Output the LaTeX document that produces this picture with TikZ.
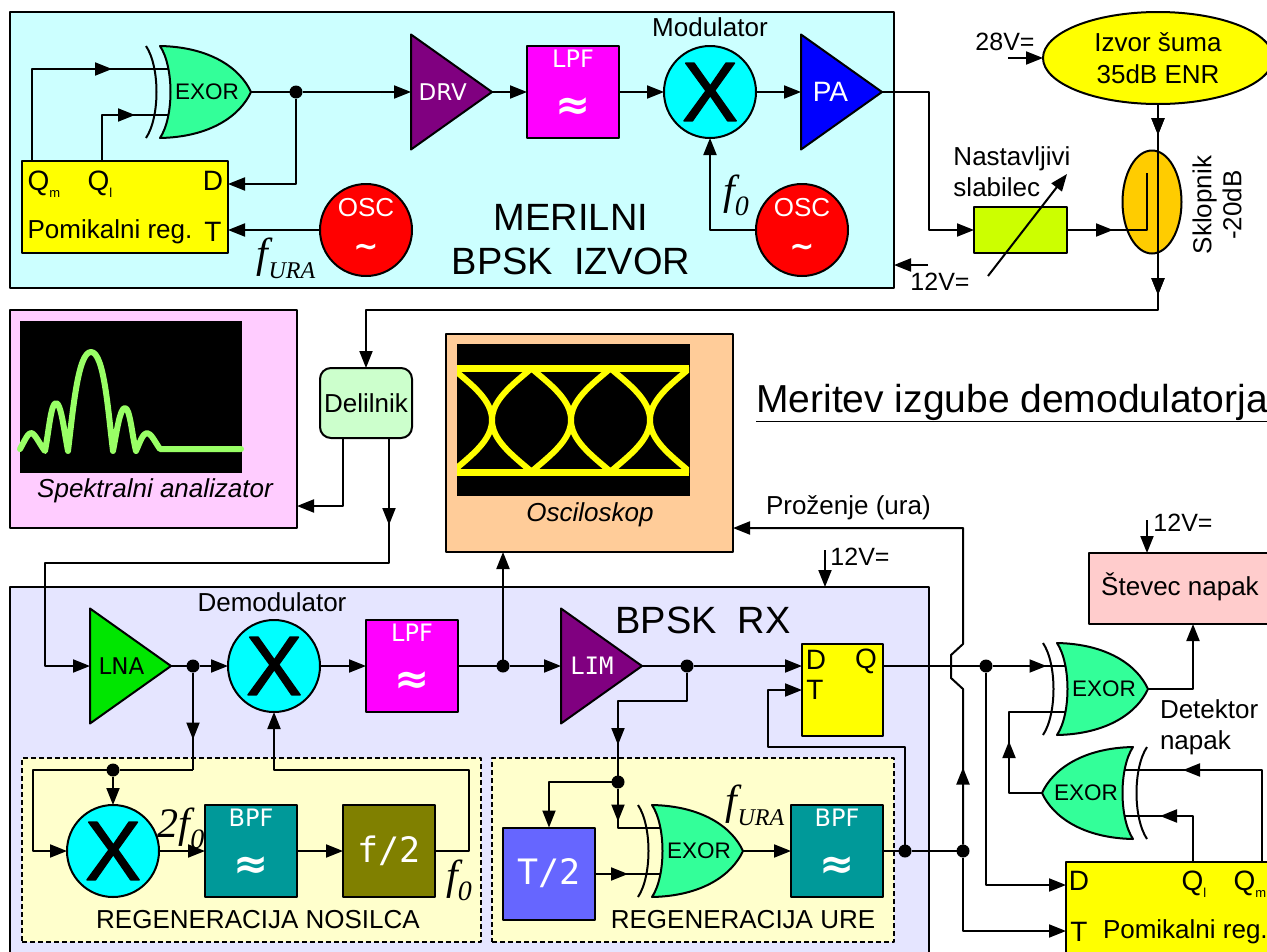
\documentclass[tikz,border=0pt]{standalone}
\usepackage{fontspec}
\setmainfont{Liberation Sans}
\newfontfamily\timesfont{Liberation Serif}
\newfontfamily\verafont{DejaVu Sans}
\newfontfamily\verabold{DejaVu Sans Bold}
\newfontfamily\veramono{DejaVu Sans Mono}
\newfontfamily\mixfont[FakeBold=1.5]{Liberation Sans}
\usetikzlibrary{arrows.meta}
\usetikzlibrary{shapes.geometric}
\usetikzlibrary{decorations.markings}
\newcommand{\fz}[1]{\fontsize{#1}{#1}\selectfont}
\newcommand{\ffreq}[2]{{\timesfont\itshape\fz{42}f\fz{#2}\raisebox{-11pt}{#1}}}
\newcommand{\filtertext}[1]{{\verafont\fz{24}#1}\\[26pt]{\verabold\fz{42}≈\rule[-14pt]{0pt}{14pt}}}
\newcommand{\osctext}{{\fz{26}OSC}\\[14pt]{\verabold\fz{30}\char"007E\rule[-5pt]{0pt}{5pt}}}
\newcommand{\qsub}[1]{{\fz{28}Q}\raisebox{-7pt}{\fz{13}#1}}
\definecolor{cmer}{HTML}{CCFFFF}
\definecolor{crx}{HTML}{E5E5FF}
\definecolor{creg}{HTML}{FFFFCC}
\definecolor{cgate}{HTML}{33FF99}
\definecolor{cpurple}{HTML}{800080}
\definecolor{cbpf}{HTML}{009999}
\definecolor{cdiv}{HTML}{808000}
\definecolor{cspek}{HTML}{FFCCFF}
\definecolor{cosc}{HTML}{FFCC99}
\definecolor{cdel}{HTML}{CCFFCC}
\definecolor{cslab}{HTML}{CCFF00}
\definecolor{csklop}{HTML}{FFCC00}
\definecolor{cstev}{HTML}{FFCCCC}
\definecolor{cblue}{HTML}{6666FF}
\definecolor{cspec}{HTML}{99FF66}
\definecolor{cmix}{HTML}{00FFFF}
\definecolor{clpf}{HTML}{FF00FF}
\definecolor{cyel}{HTML}{FFFF00}
\definecolor{cgrn}{HTML}{00E600}
\definecolor{cpa}{HTML}{0000FF}
\definecolor{cosg}{HTML}{FF0000}
\tikzset{
  blok/.style={draw=black, line width=2pt, rectangle, inner sep=0pt, outer sep=0pt, align=center, font=\fz{26}},
  okvir/.style={blok, anchor=north west},
  filter/.style={blok, minimum size=92pt, text=white},
  ojac/.style={draw=black, line width=2pt, shape=isosceles triangle, isosceles triangle stretches,
    minimum width=115pt, minimum height=81pt, inner sep=0pt, outer sep=0pt, anchor=lower side},
  mesalnik/.style={draw=black, line width=2pt, circle, fill=cmix, minimum size=92pt, inner sep=0pt, outer sep=0pt, font=\mixfont\fz{84}},
  oscil/.style={mesalnik, fill=cosg, text=white, align=center, font=\fz{26}},
  tekst/.style={inner sep=0pt, outer sep=0pt, font=\fz{26}, align=left},
  napet/.style={tekst, font=\fz{25}},
  tocka/.style={circle, fill=black, minimum size=13pt, inner sep=0pt, outer sep=0pt},
  vod/.style={draw=black, line width=2pt},
  zica/.style={vod, -{Triangle[length=17pt,width=13pt]}},
  midhead/.style={postaction={decorate}, decoration={markings, mark=at position #1 with {\arrow{Triangle[length=17pt,width=13pt]}}}},
  exor/.pic={
    \draw[line width=2pt, fill=cgate] (0,-46) .. controls (50,-45) and (80,-24) .. (91,0)
      .. controls (80,24) and (50,45) .. (0,46) .. controls (14,25) and (14,-25) .. (0,-46) -- cycle;
    \draw[line width=2pt] (-14,-46) .. controls (0,-25) and (0,25) .. (-14,46);
    \node[font=\fz{22.5}] (-t) at (47,0) {EXOR};
    \coordinate (-a) at (8,-23);
    \coordinate (-b) at (8,23);
    \coordinate (-o) at (91,0);
  }
}
\begin{document}
\begin{tikzpicture}[x=1pt, y=-1pt, line join=round]
  \useasboundingbox (0,0) rectangle (1267,951);
  \clip (0,0) rectangle (1267,951);
  % okvirji
  \node[okvir, fill=cmer, minimum width=884pt, minimum height=276pt] (mer) at (10,12) {};
  \node[okvir, fill=crx, minimum width=919pt, minimum height=380pt] (rx) at (10,587) {};
  \node[okvir, fill=creg, dash pattern=on 5pt off 3pt, minimum width=459pt, minimum height=184pt] (regnos) at (22,758) {};
  \node[okvir, fill=creg, dash pattern=on 5pt off 3pt, minimum width=402pt, minimum height=184pt] (regure) at (492,758) {};
  \node[okvir, fill=cspek, minimum width=287pt, minimum height=218pt] (spek) at (10,310) {};
  \node[okvir, fill=cosc, minimum width=287pt, minimum height=218pt] (osc) at (446,334) {};
  \node[okvir, fill=black, minimum width=221pt, minimum height=151pt, line width=0pt] (spekscr) at (20,321) {};
  \node[okvir, fill=black, minimum width=232pt, minimum height=151pt, line width=0pt] (oscscr) at (457,344) {};
  % zaslona
  \draw[cspec, line width=6pt, line cap=round] (20,449) .. controls (25,440) and (28,433) .. (31,433)
    .. controls (35,433) and (40,445) .. (45,451) .. controls (49,430) and (51,403) .. (56,403)
    .. controls (61,403) and (64,430) .. (68,451) .. controls (73,410) and (78,352) .. (91,352)
    .. controls (104,352) and (108,410) .. (113,451) .. controls (117,430) and (120,408) .. (125,408)
    .. controls (130,408) and (132,435) .. (136,451) .. controls (140,442) and (143,433) .. (147,433)
    .. controls (151,433) and (155,442) .. (160,449) -- (241,449);
  \begin{scope}
    \clip (457,344) rectangle (689,495);
    \draw[cyel, line width=7pt] (457,368) -- (689,368) (457,472) -- (689,472);
    \foreach \c in {492,571,650} {
      \draw[cyel, line width=6pt] (\c-40,368) .. controls (\c-20,385) and (\c,400) .. (\c,420)
        .. controls (\c,440) and (\c+20,455) .. (\c+40,472);
      \draw[cyel, line width=6pt] (\c+40,368) .. controls (\c+20,385) and (\c,400) .. (\c,420)
        .. controls (\c,440) and (\c-20,455) .. (\c-40,472);
    }
  \end{scope}
  % MERILNI BPSK IZVOR
  \pic (exorA) at (160,92) {exor};
  \node[okvir, fill=cyel, minimum width=206pt, minimum height=92pt] (regA) at (22,161) {};
  \node[tekst] (regAqm) at (44,184) {\qsub{m}};
  \node[tekst] (regAql) at (100,184) {\qsub{l}};
  \node[tekst, font=\fz{28}] (regAd) at (213,181) {D};
  \node[tekst, font=\fz{28}] (regAt) at (213,232) {T};
  \node[tekst] (regAn) at (110,232) {Pomikalni reg.};
  \node[ojac, fill=cpurple, text=white, font=\verafont\fz{23}] (drv) at (411,92) {DRV};
  \node[filter, fill=clpf] (lpfA) at (573,92) {\filtertext{LPF}};
  \node[mesalnik] (mod) at (710,92) {X};
  \node[tekst] (modt) at (710,27) {Modulator};
  \node[ojac, fill=cpa, text=white, font=\fz{28}] (pa) at (801,92) {PA};
  \node[oscil] (oscA) at (366,230) {\osctext};
  \node[oscil] (oscB) at (802,230) {\osctext};
  \node[tekst, font=\fz{38}, align=center] (mert) at (571,240) {MERILNI\\[6pt]BPSK\ \ IZVOR};
  \node[tekst] (furaA) at (286,258) {\ffreq{URA}{24}};
  \node[tekst] (fnicA) at (736,195) {\ffreq{0}{28}};
  \node[tocka] (dA) at (296,92) {};
  \coordinate (qmA) at (32,161);
  \coordinate (qlA) at (102,161);
  \coordinate (dinA) at (228,184);
  \coordinate (tinA) at (228,230);
  \draw[vod, midhead=172pt] (qmA) |- (exorA-a);
  \draw[vod, midhead=79pt] (qlA) |- (exorA-b);
  \draw[vod] (exorA-o) -- (dA);
  \draw[zica] (dA) -- (drv.lower side);
  \draw[zica] (dA) |- (dinA);
  \draw[zica] (oscA) -- (tinA);
  \draw[zica] (drv.apex) -- (lpfA);
  \draw[zica] (lpfA) -- (mod);
  \draw[zica] (mod) -- (pa.lower side);
  \draw[zica] (oscB) -| (mod);
  % izvor suma, slabilec, sklopnik
  \node[draw=black, line width=2pt, ellipse, fill=cyel, minimum width=230pt, minimum height=92pt, inner sep=0pt, outer sep=0pt, font=\fz{26}, align=center] (noise) at (1158,58) {Izvor šuma\\[6pt]35dB ENR};
  \node[okvir, fill=cslab, minimum width=93pt, minimum height=46pt] (slab) at (974,207) {};
  \node[draw=black, line width=2pt, ellipse, fill=csklop, minimum width=59pt, minimum height=103pt, inner sep=0pt, outer sep=0pt] (sklop) at (1152,202) {};
  \node[tekst] (slabt) at (1012,172) {Nastavljivi\\[5pt]slabilec};
  \node[tekst, rotate=90, align=center] (sklopt) at (1217,205) {Sklopnik\\[4pt]-20dB};
  \node[napet] (v28) at (1005,42) {28V=};
  \node[napet] (v12a) at (940,282) {12V=};
  \coordinate (v28z) at (1008,58);
  \coordinate (v12z) at (928,265);
  \coordinate (slabA) at (988,276);
  \coordinate (slabB) at (1067,174);
  \coordinate (sklopin) at (1147,173);
  \coordinate (sklopiz) at (1158,310);
  \coordinate (paout) at (929,230);
  \draw[zica] (v28z) -- (noise.west);
  \draw[zica] (v12z) -- (mer.east |- v12z);
  \draw[zica] (pa.apex) -| (paout) -- (slab.west);
  \draw[zica] (slabA) -- (slabB);
  \draw[vod, midhead=46pt] (slab.east) -| (sklopin);
  \draw[zica, midhead=31pt, midhead=191pt] (noise.south) -- (sklopiz) -| (366,368);
  % spektralni analizator, delilnik, osciloskop
  \node[blok, rounded corners=11pt, fill=cdel, minimum width=92pt, minimum height=70pt] (del) at (366,403) {Delilnik};
  \node[tekst, font=\itshape\fz{26}] (spekt) at (155,491) {Spektralni analizator};
  \node[tekst, font=\itshape\fz{26}] (osct) at (590,515) {Osciloskop};
  \node[tekst, font=\fz{39}] (mert2) at (1012,403) {\underline{Meritev izgube demodulatorja}};
  \coordinate (delA) at (343,438);
  \coordinate (delB) at (389,438);
  \coordinate (delB2) at (389,563);
  \coordinate (rxvh) at (45,563);
  \coordinate (spekin) at (297,506);
  \draw[zica] (delA) |- (spekin);
  % BPSK RX
  \node[tekst, font=\fz{38}] (rxt) at (703,620) {BPSK\ \ RX};
  \node[ojac, fill=cgrn, font=\verafont\fz{23}] (lna) at (90,666) {LNA};
  \node[tekst] (demt) at (272,602) {Demodulator};
  \node[mesalnik] (dem) at (274,666) {X};
  \node[filter, fill=clpf] (lpfB) at (412,666) {\filtertext{LPF}};
  \node[ojac, fill=cpurple, text=white, font=\veramono\fz{24}] (lim) at (561,666) {LIM};
  \node[okvir, fill=cyel, minimum width=81pt, minimum height=92pt] (dff) at (802,644) {};
  \node[tekst, font=\fz{28}] (dffd) at (816,660) {D};
  \node[tekst, font=\fz{28}] (dffq) at (866,661) {Q};
  \node[tekst, font=\fz{28}] (dfft) at (815,690) {T};
  \node[mesalnik] (mixC) at (113,851) {X};
  \node[filter, fill=cbpf] (bpfA) at (251,851) {\filtertext{BPF}};
  \node[filter, fill=cdiv, font=\veramono\fz{35}] (div) at (389,851) {f/2};
  \node[filter, fill=cblue, font=\veramono\fz{35}] (t2) at (549,873.5) {T/2};
  \pic (exorB) at (652,851) {exor};
  \node[filter, fill=cbpf] (bpfB) at (837,851) {\filtertext{BPF}};
  \node[tekst] (regnost) at (258,920) {REGENERACIJA NOSILCA};
  \node[tekst] (reguret) at (743,920) {REGENERACIJA URE};
  \node[tekst] (f2) at (181,828) {{\timesfont\itshape\fz{42}2f\fz{28}\raisebox{-11pt}{0}}};
  \node[tekst] (fnicB) at (459,880) {\ffreq{0}{28}};
  \node[tekst] (furaB) at (755,805) {\ffreq{URA}{24}};
  \node[tocka] (dB) at (193,666) {};
  \node[tocka] (dC) at (113,770) {};
  \node[tocka] (dD) at (503,666) {};
  \node[tocka] (dE) at (687,666) {};
  \node[tocka] (dF) at (618,782) {};
  \node[tocka] (dG) at (905,851) {};
  \node[tocka] (dH) at (963,851) {};
  \node[tocka] (dI) at (986,666) {};
  \coordinate (vhod) at (33,770);
  \coordinate (vhodB) at (193,770);
  \coordinate (divout) at (469,770);
  \coordinate (limk) at (618,701);
  \coordinate (ckl) at (768,747);
  \coordinate (dffT) at (802,690);
  \coordinate (dffQ) at (883,666);
  \coordinate (dffD) at (802,666);
  \draw[zica] (delB) -- (delB2) -- (rxvh) |- (lna.lower side);
  \draw[vod, midhead=87pt] (delB) -- (delB2);
  \draw[vod] (lna.apex) -- (dB);
  \draw[zica] (dB) -- (dem);
  \draw[zica] (dem) -- (lpfB);
  \draw[vod] (lpfB) -- (dD);
  \draw[zica] (dD) -- (lim.lower side);
  \draw[zica] (dD) -- (osc.south -| dD);
  \draw[vod] (lim.apex) -- (dE);
  \draw[zica] (dE) -- (dffD);
  \draw[vod, midhead=67pt] (dB) -- (vhodB);
  \draw[vod] (vhodB) -- (dC);
  \draw[zica] (dC) -- (vhod) |- (mixC);
  \draw[zica] (dC) -- (mixC);
  \draw[zica] (mixC) -- (bpfA);
  \draw[zica] (bpfA) -- (div);
  \draw[zica] (div) -| (divout) -| (dem);
  \draw[vod] (dE) |- (limk) -- (dF);
  \draw[vod, midhead=44pt] (limk) -- (dF);
  \draw[zica] (dF) -| (t2);
  \draw[vod, midhead=33pt] (dF) |- (exorB-a);
  \draw[vod, midhead=33pt] (t2.east |- exorB-b) -- (exorB-b);
  \draw[zica] (exorB-o) -- (bpfB);
  \draw[vod] (bpfB) -- (dG);
  \draw[vod] (dG) -- (dH);
  \draw[zica] (dG) |- (ckl) |- (dffT);
  % detektor napak
  \node[okvir, fill=cstev, minimum width=200pt, minimum height=71pt] (stev) at (1089,553) {};
  \node[tekst] (stevt) at (1180,587) {Števec napak};
  \pic (exorC) at (1057,689) {exor};
  \pic[xscale=-1] (exorD) at (1133,793) {exor};
  \node[okvir, fill=cyel, minimum width=230pt, minimum height=110pt] (regB) at (1066,862) {};
  \node[tekst, font=\fz{28}] (regBd) at (1079,881) {D};
  \node[tekst] (regBql) at (1194,884) {\qsub{l}};
  \node[tekst] (regBqm) at (1250,884) {\qsub{m}};
  \node[tekst, font=\fz{28}] (regBt) at (1079,932) {T};
  \node[tekst, anchor=west] (regBn) at (1103,932) {Pomikalni reg.};
  \node[tekst, anchor=west] (det) at (1160,727) {Detektor\\[5pt]napak};
  \node[tekst, anchor=west] (prozt) at (766,508) {Proženje (ura)};
  \node[napet] (v12b) at (860,557) {12V=};
  \node[napet] (v12c) at (1183,523) {12V=};
  \coordinate (v12bz) at (825,550);
  \coordinate (v12cz) at (1147,520);
  \coordinate (pro) at (963,528);
  \coordinate (prin) at (733,528);
  \coordinate (jogA) at (963,644);
  \coordinate (jogB) at (951,655);
  \coordinate (jogC) at (951,678);
  \coordinate (jogD) at (963,689);
  \coordinate (regBD) at (1066,885);
  \coordinate (regBT) at (1066,931);
  \coordinate (regBl) at (1193,862);
  \coordinate (regBm) at (1262,862);
  \coordinate (exorDl) at (1009,793);
  \coordinate (stevin) at (1193,624);
  \draw[zica] (v12bz) -- (rx.north -| v12bz);
  \draw[zica] (v12cz) -- (stev.north -| v12cz);
  \draw[vod] (dffQ) -- (dI);
  \draw[vod, midhead=54pt] (dI) -- (exorC-a);
  \draw[zica] (dI) |- (regBD);
  \draw[zica] (dH) |- (regBT);
  \draw[zica, midhead=77pt] (dH) -- (jogD) -- (jogC) -- (jogB) -- (jogA) -- (pro) -- (prin);
  \draw[zica] (exorC-o) -| (stevin);
  \draw[vod, midhead=171pt] (regBm) |- (exorD-a);
  \draw[vod, midhead=79pt] (regBl) |- (exorD-b);
  \draw[vod, midhead=85pt] (exorD-o) -| (exorDl) |- (exorC-b);
\end{tikzpicture}
\end{document}
